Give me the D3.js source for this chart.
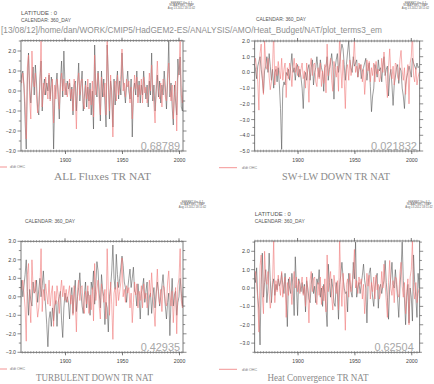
<!DOCTYPE html>
<html><head><meta charset="utf-8">
<script src="https://cdn.jsdelivr.net/npm/d3@7"></script>
<style>body{margin:0;background:#fff}svg{display:block}</style>
</head><body>
<script>
// ---------------- data ----------------
const years = d3.range(1861, 2008);
// red series: d/dt OHC (shared by all panels)
const ohcTrend = [0.5,0.4,0.9,0.2,-0.6,-2.4,1.2,1.8,-0.4,-1.4,2.0,0.5,0.2,0.9,-0.3,-1.1,-0.6,0.4,2.6,-0.8,
 0.4,-0.2,0.7,0.1,-0.4,0.9,-0.5,0.2,0.6,-1.6,0.3,-0.4,0.6,0.1,-0.9,0.3,0.9,0.0,0.6,-0.2,
 0.4,-0.3,0.2,0.6,-0.4,0.1,-1.0,0.6,-0.3,-1.9,0.4,0.9,-0.2,0.5,0.6,-0.6,-0.9,0.3,-0.4,0.6,
 -0.9,0.1,-0.7,0.5,-1.3,1.8,-0.2,0.4,0.9,-0.5,-1.2,0.7,0.2,-0.3,0.4,-1.2,2.6,0.3,-1.0,0.8,
 -0.4,-2.3,0.2,0.5,-0.5,0.8,-0.2,0.3,0.8,2.1,0.0,0.4,-0.3,0.6,0.2,0.5,-0.6,0.2,-1.4,-0.3,
 0.8,0.1,0.7,-0.6,0.3,-0.2,0.6,-0.6,0.7,-0.1,0.2,-0.6,-0.3,0.9,0.0,1.3,0.2,-0.7,-1.6,0.3,
 1.5,0.0,-0.4,0.4,-0.8,0.6,0.5,-0.3,-0.5,0.8,1.4,0.1,-0.5,0.3,-1.4,-0.2,0.5,-2.0,0.6,1.0,
 2.6,-0.2,-0.6,0.3,-0.8,-0.3,0.0];
// black series
const allFluxes = [0.2,0.8,1.0,0.3,-1.5,-2.9,0.5,1.9,0.2,-0.6,0.3,1.2,-0.2,1.3,0.4,-0.9,-1.2,0.6,1.5,-1.0,
 0.1,0.6,-0.2,0.4,0.0,0.8,-0.4,0.7,0.3,-2.9,-0.5,0.3,0.9,-0.3,-1.4,0.5,1.5,-0.3,2.0,0.3,
 -0.2,0.5,0.1,0.4,-0.5,0.2,-1.2,0.3,0.5,-1.0,0.3,1.4,-0.5,0.2,1.0,-1.0,-0.3,0.5,-0.8,0.2,
 -0.5,0.4,-1.2,0.0,-1.9,2.3,0.2,-0.3,1.0,0.1,-1.5,1.0,-0.3,0.6,-0.6,-1.8,2.3,0.8,-1.4,0.5,
 0.0,-1.8,0.6,-0.7,0.3,1.0,-0.4,0.5,-0.2,1.9,0.6,0.0,-0.6,0.3,1.0,0.0,-0.4,0.6,-2.3,0.0,
 0.4,-0.2,1.0,-0.3,0.5,-0.6,0.3,-0.2,1.0,0.2,-0.4,0.3,-0.8,0.5,-0.2,1.9,-0.5,0.3,-1.0,0.0,
 0.8,-0.3,0.5,-0.6,0.3,-0.2,1.0,0.2,-0.9,0.4,2.5,-0.3,0.4,-0.8,-1.7,0.3,-0.5,-1.2,1.6,0.8,
 1.7,-0.8,-1.0,0.5,0.5,0.0,0.0];
const swlwDown = [0.3,0.5,0.2,-0.4,0.4,0.7,1.0,0.2,-0.4,-1.3,0.1,0.4,1.0,0.0,1.2,0.4,-0.5,0.2,-1.0,0.0,
 0.2,-0.6,0.3,-0.8,-2.3,-4.9,-1.0,-0.6,-0.8,0.0,-0.2,0.2,-0.5,0.4,1.2,0.0,0.3,-0.5,0.3,0.5,
 -0.3,0.2,-0.3,-1.0,-2.3,-0.4,0.0,-0.5,0.2,0.5,-0.5,0.3,0.8,-0.8,0.0,0.3,1.0,0.2,-0.3,0.8,
 0.3,0.0,-1.2,0.3,0.4,1.0,-0.5,0.2,0.6,1.2,0.4,-1.7,0.3,0.8,1.2,0.0,0.6,1.3,1.8,1.5,
 0.5,-0.5,0.5,1.3,2.0,0.8,0.3,0.0,1.0,0.4,0.6,0.8,-0.3,0.2,0.5,-0.4,0.1,0.3,0.6,0.9,
 -0.5,0.2,0.6,-0.9,-2.5,-1.5,-1.0,0.5,0.2,-0.3,0.8,0.1,0.3,-0.6,0.4,1.0,-0.2,0.2,0.4,-1.5,
 -0.3,0.2,-0.8,-2.1,-0.8,-0.3,0.3,0.5,-0.7,0.3,0.1,-1.0,-1.5,-2.3,-0.8,-0.3,0.0,0.4,0.1,-0.3,
 0.9,0.6,0.4,0.2,0.6,0.3,0.4];
const turbulentDown = [-0.5,0.9,0.0,0.6,1.2,2.0,0.3,-1.0,0.4,-0.2,-0.5,0.8,0.2,0.3,0.9,-0.3,0.4,1.0,0.0,0.6,
 1.4,0.3,-0.5,-1.5,-2.7,-1.2,-0.8,-1.6,-0.6,-1.3,-0.5,-0.2,-1.6,-0.3,0.0,0.3,-1.3,-2.2,-0.6,0.2,
 -0.3,0.0,-0.3,-1.2,0.0,0.5,-0.9,0.2,0.9,-0.8,0.0,0.5,1.3,0.2,-0.5,-0.9,0.1,0.8,-0.6,0.3,
 0.0,-1.0,0.8,0.4,1.4,-0.4,0.6,1.9,1.4,0.2,-0.6,1.2,0.4,0.0,-1.5,-0.3,-0.6,-1.9,0.0,0.5,
 1.4,2.8,1.0,0.4,2.3,1.2,0.5,1.0,1.6,2.2,1.7,0.8,0.5,-0.3,0.4,1.0,1.5,0.5,1.0,1.6,
 0.3,0.2,-0.5,0.7,0.0,-1.2,0.2,0.5,1.0,-0.3,0.3,0.8,-1.0,0.0,0.2,-0.9,0.0,0.5,-0.6,0.2,
 0.8,0.3,-0.5,0.0,0.6,1.2,0.3,-0.5,-1.2,-0.3,0.2,-2.1,-0.2,1.0,-0.5,0.1,0.3,-1.0,-0.3,0.0,
 1.0,0.2,-0.5,0.8,0.3,0.0,0.0];
const heatConvergence = [0.5,0.8,0.3,1.1,-0.5,-1.2,-3.1,0.2,1.9,-0.5,0.3,1.0,-0.8,0.0,1.9,0.4,-0.8,0.2,0.5,-0.4,
 0.2,-0.1,0.5,0.1,0.3,0.8,0.2,-0.3,0.8,-0.5,-2.1,0.5,0.0,-0.3,0.8,0.1,-1.5,1.7,0.2,-1.5,
 0.5,0.2,-0.2,0.3,-0.3,0.2,-1.3,0.4,0.0,-0.6,-0.8,0.2,0.8,-0.3,0.1,-0.8,0.5,0.2,1.0,-0.5,
 0.0,-1.0,0.2,-0.3,-1.1,-2.1,1.3,0.3,-0.5,0.5,0.0,-0.8,-1.0,0.3,-0.2,-1.7,0.2,0.7,1.4,0.6,
 0.0,-0.3,-0.2,-1.3,0.8,0.3,-0.2,-0.5,1.4,0.5,2.5,-0.5,0.0,0.3,-0.3,0.2,0.7,1.3,0.4,0.0,
 -1.9,0.2,0.8,1.1,0.2,-0.5,-1.0,0.0,0.5,0.8,-1.1,0.0,0.2,-0.3,0.1,0.4,1.5,0.3,-0.5,-1.7,
 0.0,0.6,1.4,0.2,0.0,1.0,0.2,-0.6,-1.6,0.0,1.0,2.5,0.4,-0.6,-2.0,-0.5,0.2,-1.9,0.0,-0.5,
 -1.8,1.8,0.3,-0.5,-1.6,0.8,0.0];
const panelTitles = ["ALL Fluxes TR NAT","SW+LW DOWN TR NAT","TURBULENT DOWN TR NAT","Heat Convergence TR NAT"];
const correlations = ["0.68789","0.021832","0.42935","0.62504"];
const xTickYears = [1900, 1950, 2000];
const legendLabel = "d/dt OHC";
const pathLabel = "[13/08/12]/home/dan/WORK/CMIP5/HadGEM2-ES/ANALYSIS/AMO/Heat_Budget/NAT/plot_terms3_em";
const ferretLines = ["FERRET Ver. 6.1","NOAA/PMEL TMAP","Aug 13 2012 18:11:42"];

// ---------------- layout ----------------
const panels = [
 {series: allFluxes, x0:21, x1:183, y0:40.7, y1:151, xd:[1861.4,2003.5], yd:[-3,2.515], yt:[-3,2],
  header:[["LATITUDE : 0",21,15.3,36],["CALENDAR: 360_DAY",21,21.7,50]],
  title:[102.5,180,97], score:[180,150,39.3], legend:[0,7,167,10], ferret:[181.5,3.5]},
 {series: swlwDown, x0:254.7, x1:419.7, y0:41, y1:151, xd:[1862.3,2007.4], yd:[-5,2], yt:[-5,2],
  header:[["CALENDAR: 360_DAY",256,20.7,50]],
  title:[336,180,108], score:[417,150,46], legend:[219,237,167.7,242], ferret:[415.5,3.5]},
 {series: turbulentDown, x0:21, x1:183, y0:241.3, y1:352.3, xd:[1861.4,2003.5], yd:[-3,3], yt:[-3,3],
  header:[["CALENDAR: 360_DAY",25,223,50]],
  title:[94.5,381,117], score:[180,350.7,39.3], legend:[0,7,369,10], ferret:[192.5,202.5]},
 {series: heatConvergence, x0:254.7, x1:419.7, y0:241, y1:352.3, xd:[1862.3,2007.4], yd:[-3.5,2.56], yt:[-3,2],
  header:[["LATITUDE : 0",254.7,216,36],["CALENDAR: 360_DAY",254.7,222.7,50]],
  title:[318,381,101], score:[413.7,350.7,39.3], legend:[219,237,369.3,242], ferret:[419,202.5]}
];

const W = 434, H = 384;
const svg = d3.select("body").append("svg").attr("width", W).attr("height", H);
const AX = "#5a5a5a", BLACK = "#4a4a4a", RED = "#f07a7a";
const sans = "'Liberation Sans', Arial, sans-serif";

// path label
svg.append("text").attr("x", 1).attr("y", 33.3).attr("font-family", sans)
  .attr("font-size", 9.5).attr("fill", "#8f8f8f").attr("textLength", 381)
  .attr("lengthAdjust", "spacingAndGlyphs").text(pathLabel);

panels.forEach((p, i) => {
  const g = svg.append("g");
  const x = d3.scaleLinear().domain(p.xd).range([p.x0, p.x1]);
  const y = d3.scaleLinear().domain(p.yd).range([p.y1, p.y0]);

  // headers
  p.header.forEach(([t, hx, hy, tl]) => {
    g.append("text").attr("x", hx).attr("y", hy).attr("font-family", sans).attr("font-size", 6.2)
      .attr("fill", "#555").attr("textLength", tl).attr("lengthAdjust", "spacingAndGlyphs").text(t);
  });
  // ferret stamp
  ferretLines.forEach((t, k) => {
    g.append("text").attr("x", p.ferret[0]).attr("y", p.ferret[1] + k * 2.6).attr("text-anchor", "middle")
      .attr("font-family", sans).attr("font-size", 2.8).attr("fill", "#666").text(t);
  });

  // clip
  const cid = "clip" + i;
  svg.append("clipPath").attr("id", cid).append("rect")
    .attr("x", p.x0).attr("y", p.y0).attr("width", p.x1 - p.x0).attr("height", p.y1 - p.y0);

  const line = d3.line().x((d, k) => x(years[k])).y(d => y(d));
  const lg = g.append("g").attr("clip-path", `url(#${cid})`);
  lg.append("path").datum(p.series).attr("d", line).attr("fill", "none")
    .attr("stroke", BLACK).attr("stroke-width", 0.6).attr("stroke-opacity", 0.9);
  lg.append("path").datum(ohcTrend).attr("d", line).attr("fill", "none")
    .attr("stroke", RED).attr("stroke-width", 0.7).attr("stroke-opacity", 0.85);

  // frame
  g.append("rect").attr("x", p.x0).attr("y", p.y0).attr("width", p.x1 - p.x0).attr("height", p.y1 - p.y0)
    .attr("fill", "none").attr("stroke", AX).attr("stroke-width", 0.8);

  // y ticks (both sides)
  const yMinor = d3.range(Math.ceil(p.yd[0] * 2) / 2, p.yd[1] + 1e-6, 0.5);
  yMinor.forEach(v => {
    const major = Math.abs(v - Math.round(v)) < 1e-6;
    const len = major ? 3.5 : 2.2;
    g.append("line").attr("x1", p.x0 - len).attr("x2", p.x0).attr("y1", y(v)).attr("y2", y(v))
      .attr("stroke", AX).attr("stroke-width", 0.7);
    g.append("line").attr("x1", p.x1).attr("x2", p.x1 + len).attr("y1", y(v)).attr("y2", y(v))
      .attr("stroke", AX).attr("stroke-width", 0.7);
  });
  d3.range(p.yt[0], p.yt[1] + 1e-6, 1).forEach(v => {
    const s = d3.format(".1f")(v);
    g.append("text").attr("x", p.x0 - 5).attr("y", y(v) + 2).attr("text-anchor", "end")
      .attr("font-family", sans).attr("font-size", 5.6).attr("fill", "#444")
      .attr("textLength", s.length * 2.55).attr("lengthAdjust", "spacingAndGlyphs").text(s);
  });

  // x axis minor ticks
  const xMinor = d3.range(Math.ceil(p.xd[0] / 2.5) * 2.5, p.xd[1], 2.5);
  xMinor.forEach(v => {
    [p.y0, p.y1].forEach(yy => {
      g.append("line").attr("x1", x(v)).attr("x2", x(v)).attr("y1", yy - 1.3).attr("y2", yy + 1.3)
        .attr("stroke", "#777").attr("stroke-width", 0.6);
    });
  });
  // x major ticks & labels
  const xAxis = d3.axisBottom(x).tickValues(xTickYears).tickSize(3).tickFormat(d3.format("d"));
  const ax = g.append("g").attr("transform", `translate(0,${p.y1})`).call(xAxis);
  ax.select(".domain").remove();
  ax.selectAll("line").attr("stroke", AX).attr("stroke-width", 0.8);
  ax.selectAll("text").attr("font-family", sans).attr("font-size", 6).attr("fill", "#444")
    .attr("dy", 0).attr("y", 11).attr("textLength", 11.5).attr("lengthAdjust", "spacingAndGlyphs");
  xTickYears.forEach(v => {
    g.append("line").attr("x1", x(v)).attr("x2", x(v)).attr("y1", p.y0 - 3).attr("y2", p.y0)
      .attr("stroke", AX).attr("stroke-width", 0.8);
  });

  // correlation
  g.append("text").attr("x", p.score[0]).attr("y", p.score[1]).attr("text-anchor", "end")
    .attr("font-family", sans).attr("font-size", 10).attr("fill", "#a8a8a8")
    .attr("textLength", p.score[2]).attr("lengthAdjust", "spacingAndGlyphs").text(correlations[i]);

  // legend
  g.append("line").attr("x1", p.legend[0]).attr("x2", p.legend[1]).attr("y1", p.legend[2]).attr("y2", p.legend[2])
    .attr("stroke", RED).attr("stroke-width", 0.8);
  g.append("text").attr("x", p.legend[3]).attr("y", p.legend[2] + 1.3).attr("font-family", sans)
    .attr("font-size", 3.6).attr("fill", "#777").text(legendLabel);

  // title
  g.append("text").attr("x", p.title[0]).attr("y", p.title[1]).attr("text-anchor", "middle")
    .attr("font-family", "'Liberation Serif', 'Times New Roman', serif").attr("font-size", 10.5)
    .attr("fill", "#8a8a8a").attr("textLength", p.title[2]).attr("lengthAdjust", "spacingAndGlyphs")
    .text(panelTitles[i]);
});
</script>
</body></html>
